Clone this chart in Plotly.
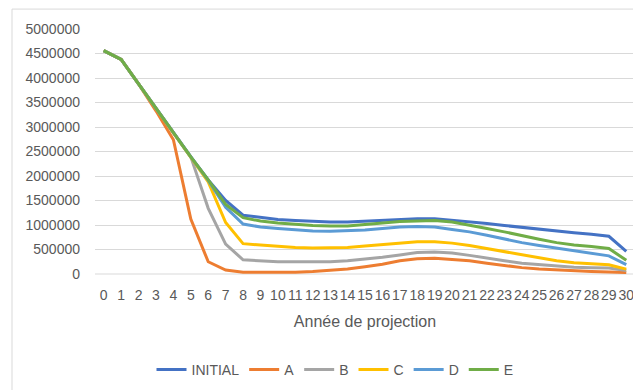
import plotly.graph_objects as go

years = list(range(31))
tick_labels = [str(y) for y in years]

initial = [4.56, 4.38, 3.88, 3.38, 2.89, 2.39, 1.92, 1.50, 1.20, 1.15, 1.11, 1.09, 1.07, 1.06, 1.06, 1.08,
           1.10, 1.12, 1.13, 1.13, 1.10, 1.07, 1.03, 0.99, 0.95, 0.91, 0.87, 0.84, 0.81, 0.77, 0.46]
serie_a = [4.56, 4.38, 3.88, 3.33, 2.74, 1.12, 0.25, 0.08, 0.035, 0.03, 0.03, 0.035, 0.05, 0.07, 0.10, 0.15,
           0.20, 0.27, 0.31, 0.32, 0.30, 0.27, 0.22, 0.17, 0.13, 0.10, 0.08, 0.06, 0.05, 0.04, 0.03]
serie_b = [4.56, 4.38, 3.88, 3.38, 2.89, 2.39, 1.34, 0.61, 0.29, 0.27, 0.25, 0.25, 0.25, 0.25, 0.27, 0.30,
           0.34, 0.39, 0.44, 0.45, 0.43, 0.38, 0.32, 0.27, 0.22, 0.19, 0.16, 0.14, 0.13, 0.12, 0.07]
serie_c = [4.56, 4.38, 3.88, 3.38, 2.89, 2.39, 1.88, 1.05, 0.62, 0.59, 0.56, 0.54, 0.53, 0.53, 0.54, 0.57,
           0.60, 0.63, 0.66, 0.66, 0.63, 0.58, 0.52, 0.45, 0.39, 0.33, 0.27, 0.23, 0.21, 0.19, 0.10]
serie_d = [4.56, 4.38, 3.88, 3.38, 2.89, 2.39, 1.91, 1.36, 1.02, 0.96, 0.93, 0.90, 0.88, 0.87, 0.88, 0.90,
           0.93, 0.96, 0.97, 0.96, 0.91, 0.86, 0.79, 0.71, 0.64, 0.58, 0.53, 0.48, 0.43, 0.37, 0.19]
serie_e = [4.56, 4.38, 3.88, 3.38, 2.89, 2.39, 1.92, 1.42, 1.15, 1.08, 1.04, 1.01, 0.99, 0.98, 0.98, 1.01,
           1.04, 1.07, 1.08, 1.09, 1.06, 1.00, 0.93, 0.86, 0.78, 0.71, 0.64, 0.59, 0.56, 0.52, 0.28]

names = ["INITIAL", "A", "B", "C", "D", "E"]
series = [initial, serie_a, serie_b, serie_c, serie_d, serie_e]
colors = ["#4472C4", "#ED7D31", "#A5A5A5", "#FFC000", "#5B9BD5", "#70AD47"]

fig = go.Figure()
for name, vals, col in zip(names, series, colors):
    fig.add_trace(go.Scatter(
        x=years, y=[v * 1e6 for v in vals], name=name, mode="lines",
        line=dict(color=col, width=3),
    ))

# page has an 8px body margin: figure origin sits at (8, 8)
OFF = 8
PL, PR, PT, PB = 95, 635, 29, 275  # plot area in page pixels
W, H = 641 - OFF, 390 - OFF
pw, ph = PR - PL, PB - PT

font_family = "Liberation Sans, Arial, sans-serif"
fig.update_layout(
    width=W, height=H,
    margin=dict(l=PL - OFF, r=W - (PR - OFF), t=PT - OFF, b=H - (PB - OFF)),
    paper_bgcolor="white", plot_bgcolor="white",
    font=dict(family=font_family, size=14, color="#595959"),
    showlegend=True,
    legend=dict(orientation="h", x=(335 - PL) / pw, xanchor="center",
                y=(PB - 370) / ph, yanchor="middle",
                font=dict(size=14, color="#595959"), itemwidth=30, tracegroupgap=0),
    xaxis=dict(
        range=[-0.5, 30.5], tickmode="array", tickvals=years, ticktext=tick_labels,
        tickangle=0, ticklabelstandoff=11,
        showgrid=False, zeroline=False, showline=False, ticks="",
        tickfont=dict(size=14, color="#595959"),
        title=dict(text="Année de projection", font=dict(size=16, color="#595959"), standoff=13),
        fixedrange=True,
    ),
    yaxis=dict(
        range=[0, 5000000], tickmode="linear", tick0=0, dtick=500000,
        tickformat="d", showgrid=True, gridcolor="#D9D9D9", gridwidth=1,
        zeroline=False, showline=False, ticks="", ticklabelstandoff=14,
        tickfont=dict(size=14, color="#595959"),
        fixedrange=True,
    ),
    shapes=[
        dict(type="line", xref="paper", yref="paper", x0=0, x1=1, y0=0, y1=0,
             line=dict(color="#D9D9D9", width=1), layer="below"),
        dict(type="line", xref="paper", yref="paper",
             x0=(12 - PL) / pw, x1=(640 - PL) / pw, y0=(PB - 9) / ph, y1=(PB - 9) / ph,
             line=dict(color="#D9D9D9", width=1), layer="above"),
        dict(type="line", xref="paper", yref="paper",
             x0=(12 - PL) / pw, x1=(12 - PL) / pw, y0=(PB - 395) / ph, y1=(PB - 9) / ph,
             line=dict(color="#D9D9D9", width=1), layer="above"),
    ],
)

fig.write_html("out.html")
